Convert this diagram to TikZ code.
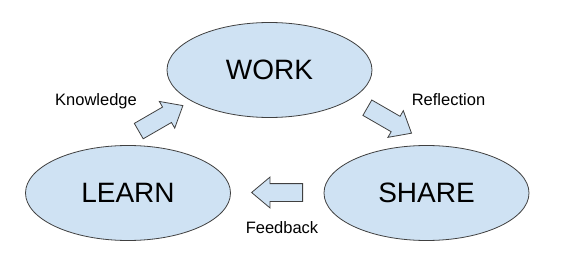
\documentclass[tikz,border=0pt]{standalone}
\usepackage{fontspec}
\setmainfont{Liberation Sans}
\usetikzlibrary{positioning,shapes.geometric,shapes.arrows}
\definecolor{bubblefill}{HTML}{CFE2F3}
\definecolor{bubbleline}{HTML}{404040}

\begin{document}
\begin{tikzpicture}[
    x=1pt, y=1pt,
    bubble/.style={ellipse, draw=bubbleline, fill=bubblefill, line width=0.8pt, minimum width=205pt, minimum height=95pt, inner sep=0pt, font=\fontsize{28}{32}\selectfont},
    blockarrow/.style={single arrow, draw=bubbleline, fill=bubblefill, line width=0.8pt, minimum height=51pt, inner sep=0pt, inner ysep=8.5pt, single arrow head extend=6.5pt, single arrow tip angle=80},
    tag/.style={anchor=base, inner sep=0pt, font=\fontsize{16.5}{18}\selectfont}
]
\useasboundingbox (0,0) rectangle (562,268);
\node[bubble] (work) at (269.5,198) {WORK};
\node[bubble, on grid, below left=123pt and 141.5pt of work] (learn) {LEARN};
\node[bubble, on grid, right=298.5pt of learn] (share) {SHARE};
\node[blockarrow, anchor=tail, rotate=30] (knowledgearrow) at (138.4,136.7) {};
\node[blockarrow, anchor=tail, rotate=-30] (reflectionarrow) at (367,160.5) {};
\node[blockarrow, anchor=tail, rotate=180] (feedbackarrow) at (303,75.5) {};
\node[tag] (knowledge) at (96,162.3) {Knowledge};
\node[tag] (reflection) at (448.5,162) {Reflection};
\node[tag] (feedback) at (282,35) {Feedback};
\end{tikzpicture}
\end{document}
